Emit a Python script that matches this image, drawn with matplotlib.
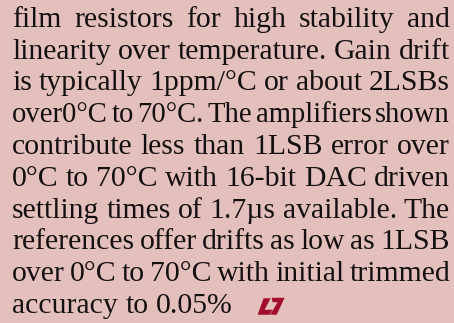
import matplotlib
matplotlib.use("Agg")
import matplotlib.pyplot as plt
from matplotlib.patches import Polygon

# Text content (one entry per typeset line)
lines = [
    "film resistors for high stability and",
    "linearity over temperature. Gain drift",
    "is typically 1ppm/°C or about 2LSBs",
    "over0°C to 70°C. The amplifiers shown",
    "contribute less than 1LSB error over",
    "0°C to 70°C with 16-bit DAC driven",
    "settling times of 1.7µs available. The",
    "references offer drifts as low as 1LSB",
    "over 0°C to 70°C with initial trimmed",
    "accuracy to 0.05%",
]

BG = "#e4c0bc"
FG = "#141010"
LOGO = "#a30d2c"

W, H = 454, 323
fig = plt.figure(figsize=(W / 100, H / 100), dpi=100, facecolor=BG)
ax = fig.add_axes([0, 0, 1, 1])
ax.set_xlim(0, W)
ax.set_ylim(H, 0)
ax.axis("off")
ax.set_facecolor(BG)

left, right = 12, 450
base0, step = 27.0, 31.75
fs = 21.4
family = ["Liberation Serif", "DejaVu Serif"]

fig.canvas.draw()
renderer = fig.canvas.get_renderer()

def width_px(txt, size):
    t = ax.text(0, 0, txt, fontsize=size, family=family)
    bb = t.get_window_extent(renderer=renderer)
    t.remove()
    return bb.width

last_end = None
for i, line in enumerate(lines):
    y = base0 + i * step
    words = line.split(" ")
    size = fs
    ws = [width_px(w, size) for w in words]
    sp = width_px("a a", size) - width_px("aa", size)
    is_last = i == len(lines) - 1
    if not is_last:
        min_gap = sp * 0.45
        while sum(ws) + min_gap * (len(words) - 1) > right - left and size > 10:
            size -= 0.25
            ws = [width_px(w, size) for w in words]
        gap = (right - left - sum(ws)) / (len(words) - 1)
    else:
        gap = sp
    x = left
    for w, wd in zip(words, ws):
        ax.text(x, y, w, fontsize=size, family=family, color=FG,
                ha="left", va="baseline")
        x += wd + gap
    last_end = x - gap

# LT logo after last line
y = base0 + (len(lines) - 1) * step
lx = last_end + 25
L = [(lx + 6, y - 14.5), (lx + 13, y - 14.5), (lx + 7, y - 3), (lx + 15, y - 3),
     (lx + 12, y + 2), (lx + 0, y + 2)]
T = [(lx + 14, y - 15), (lx + 27, y - 15), (lx + 19, y + 2), (lx + 12.5, y + 2),
     (lx + 20, y - 10.5), (lx + 15, y - 10.5)]
ax.add_patch(Polygon(L, closed=True, facecolor=LOGO, edgecolor="none"))
ax.add_patch(Polygon(T, closed=True, facecolor=LOGO, edgecolor="none"))

fig.savefig("out.png", dpi=100, facecolor=BG)
